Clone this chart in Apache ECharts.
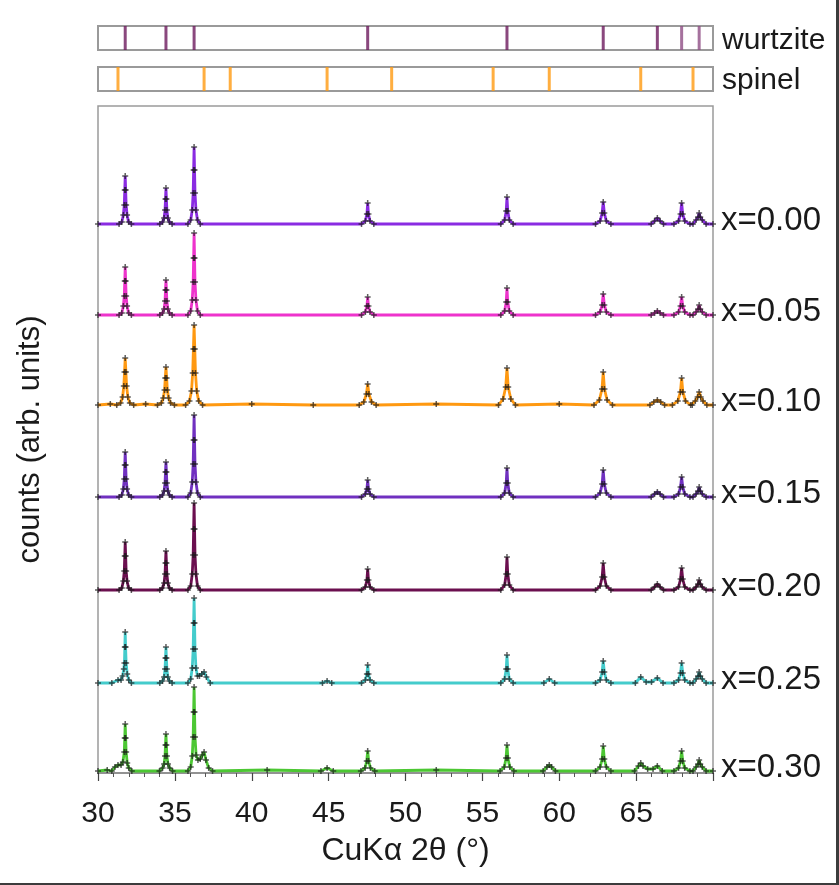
<!DOCTYPE html>
<html>
<head>
<meta charset="utf-8">
<script src="https://cdn.jsdelivr.net/npm/echarts@6/dist/echarts.min.js"></script>
<style>
  html, body { margin: 0; padding: 0; background: #ffffff; }
  #chart { width: 839px; height: 885px; }
</style>
</head>
<body>
<div id="chart"></div>
<script>
// Reference reflections (2θ, degrees)
const wurtziteLines = [31.77, 34.42, 36.25, 47.54, 56.60, 62.86, 66.38, 67.96, 69.10];
const spinelLines = [31.3, 36.9, 38.6, 44.9, 49.1, 55.7, 59.35, 65.3, 68.7];

// Sample labels and vertical offsets of each stacked pattern
const sampleNames = ['x=0.00', 'x=0.05', 'x=0.10', 'x=0.15', 'x=0.20', 'x=0.25', 'x=0.30'];
const sampleOffsets = [549, 458, 368, 276, 183, 90, 2];
const sampleColors = ['#8a2be2', '#ee33cc', '#ff9911', '#7030c0', '#6b0f4f', '#44cccc', '#4cc733'];

// Diffraction patterns: [2θ, counts above own baseline]
const pattern000 = [
  [30,0],
  [31.37,0],[31.55,2],[31.65,9],[31.71,19],[31.74,34],[31.77,48],[31.8,34],[31.83,19],[31.89,9],[31.99,2],[32.17,0],
  [34.02,0],[34.2,2],[34.3,6],[34.36,14],[34.39,25],[34.42,36],[34.45,25],[34.48,14],[34.54,6],[34.64,2],[34.82,0],
  [35.85,0],[36.03,4],[36.13,14],[36.19,31],[36.22,54],[36.25,77],[36.28,54],[36.31,31],[36.37,14],[36.47,4],[36.65,0],
  [47.14,0],[47.39,3],[47.49,10],[47.54,21],[47.59,10],[47.69,3],[47.94,0],
  [56.2,0],[56.45,4],[56.55,13],[56.6,27],[56.65,13],[56.75,4],[57.0,0],
  [62.36,0],[62.66,3],[62.79,11],[62.86,22],[62.93,11],[63.06,3],[63.36,0],
  [65.98,0],[66.2,3],[66.38,6],[66.56,3],[66.78,0],
  [67.46,0],[67.76,3],[67.89,10],[67.96,21],[68.03,10],[68.16,3],[68.5,0],
  [68.7,0],[68.9,4],[69.03,7],[69.1,11],[69.17,7],[69.3,4],[69.55,0],
  [70,0]
];
const pattern005 = [
  [30,0],
  [31.37,0],[31.55,2],[31.65,9],[31.71,19],[31.74,34],[31.77,48],[31.8,34],[31.83,19],[31.89,9],[31.99,2],[32.17,0],
  [34.02,0],[34.2,2],[34.3,6],[34.36,14],[34.39,25],[34.42,35],[34.45,25],[34.48,14],[34.54,6],[34.64,2],[34.82,0],
  [35.85,0],[36.03,4],[36.13,15],[36.19,33],[36.22,57],[36.25,82],[36.28,57],[36.31,33],[36.37,15],[36.47,4],[36.65,0],
  [47.14,0],[47.39,3],[47.49,9],[47.54,18],[47.59,9],[47.69,3],[47.94,0],
  [56.2,0],[56.45,4],[56.55,13],[56.6,27],[56.65,13],[56.75,4],[57.0,0],
  [62.36,0],[62.66,3],[62.79,10],[62.86,21],[62.93,10],[63.06,3],[63.36,0],
  [65.98,0],[66.2,2],[66.38,4],[66.56,2],[66.78,0],
  [67.46,0],[67.76,3],[67.89,9],[67.96,18],[68.03,9],[68.16,3],[68.5,0],
  [68.7,0],[68.9,3],[69.03,6],[69.1,10],[69.17,6],[69.3,3],[69.55,0],
  [70,0]
];
const pattern010 = [
  [30,0],[30.8,1],
  [31.22,0],[31.47,2],[31.6,8],[31.68,19],[31.725,33],[31.77,47],[31.815,33],[31.86,19],[31.94,8],[32.07,2],[32.32,0],
  [33.1,1],
  [33.87,0],[34.12,2],[34.25,7],[34.33,15],[34.375,27],[34.42,38],[34.465,27],[34.51,15],[34.59,7],[34.72,2],[34.97,0],
  [35.7,0],[35.95,4],[36.08,14],[36.16,32],[36.205,56],[36.25,80],[36.295,56],[36.34,32],[36.42,14],[36.55,4],[36.8,0],
  [40,1],[44,0],
  [46.99,0],[47.29,3],[47.46,11],[47.54,21],[47.62,11],[47.79,3],[48.09,0],
  [52,1],
  [56.05,0],[56.35,6],[56.52,18],[56.6,37],[56.68,18],[56.85,6],[57.15,0],
  [60,1],
  [62.26,0],[62.61,5],[62.78,16],[62.86,33],[62.94,16],[63.11,5],[63.46,0],
  [65.9,0],[66.15,3],[66.38,5],[66.6,3],[66.85,0],
  [67.36,0],[67.71,4],[67.88,13],[67.96,27],[68.04,13],[68.21,4],[68.55,0],
  [68.65,0],[68.85,4],[69.0,8],[69.1,13],[69.2,8],[69.35,4],[69.6,0],
  [70,0]
];
const pattern015 = [
  [30,0],
  [31.37,0],[31.55,2],[31.65,8],[31.71,18],[31.74,32],[31.77,45],[31.8,32],[31.83,18],[31.89,8],[31.99,2],[32.17,0],
  [34.02,0],[34.2,2],[34.3,6],[34.36,14],[34.39,25],[34.42,35],[34.45,25],[34.48,14],[34.54,6],[34.64,2],[34.82,0],
  [35.85,0],[36.03,4],[36.13,15],[36.19,33],[36.22,57],[36.25,82],[36.28,57],[36.31,33],[36.37,15],[36.47,4],[36.65,0],
  [47.14,0],[47.39,3],[47.49,8],[47.54,17],[47.59,8],[47.69,3],[47.94,0],
  [56.2,0],[56.45,4],[56.55,14],[56.6,29],[56.65,14],[56.75,4],[57.0,0],
  [62.36,0],[62.66,4],[62.79,13],[62.86,27],[62.93,13],[63.06,4],[63.36,0],
  [65.98,0],[66.2,3],[66.38,5],[66.56,3],[66.78,0],
  [67.46,0],[67.76,3],[67.89,10],[67.96,20],[68.03,10],[68.16,3],[68.5,0],
  [68.7,0],[68.9,3],[69.03,6],[69.1,10],[69.17,6],[69.3,3],[69.55,0],
  [70,0]
];
const pattern020 = [
  [30,0],
  [31.37,0],[31.55,2],[31.65,9],[31.71,19],[31.74,34],[31.77,48],[31.8,34],[31.83,19],[31.89,9],[31.99,2],[32.17,0],
  [34.02,0],[34.2,2],[34.3,7],[34.36,16],[34.39,27],[34.42,39],[34.45,27],[34.48,16],[34.54,7],[34.64,2],[34.82,0],
  [35.85,0],[36.03,4],[36.13,16],[36.19,35],[36.22,61],[36.25,87],[36.28,61],[36.31,35],[36.37,16],[36.47,4],[36.65,0],
  [47.14,0],[47.39,3],[47.49,10],[47.54,21],[47.59,10],[47.69,3],[47.94,0],
  [56.2,0],[56.45,5],[56.55,16],[56.6,33],[56.65,16],[56.75,5],[57.0,0],
  [62.36,0],[62.66,4],[62.79,13],[62.86,27],[62.93,13],[63.06,4],[63.36,0],
  [65.98,0],[66.2,3],[66.38,6],[66.56,3],[66.78,0],
  [67.46,0],[67.76,3],[67.89,11],[67.96,22],[68.03,11],[68.16,3],[68.5,0],
  [68.7,0],[68.9,3],[69.03,6],[69.1,10],[69.17,6],[69.3,3],[69.55,0],
  [70,0]
];
const pattern025 = [
  [30,0],
  [30.9,0],[31.3,3],[31.5,3],[31.6,7],[31.68,14],[31.72,20],[31.745,36],[31.77,51],[31.795,36],[31.83,20],[31.9,9],[32.0,3],[32.17,0],
  [34.02,0],[34.2,2],[34.3,6],[34.36,14],[34.39,25],[34.42,36],[34.45,25],[34.48,14],[34.54,6],[34.64,2],[34.82,0],
  [35.85,0],[36.03,4],[36.13,15],[36.19,34],[36.22,60],[36.25,85],[36.28,60],[36.31,34],[36.37,15],[36.47,7],[36.6,7],[36.75,9],[36.9,11],[37.05,6],[37.3,0],
  [44.6,0],[44.9,2],[45.2,0],
  [47.14,0],[47.39,3],[47.49,9],[47.54,18],[47.59,9],[47.69,3],[47.94,0],
  [56.2,0],[56.45,4],[56.55,14],[56.6,28],[56.65,14],[56.75,4],[57.0,0],
  [59.0,0],[59.35,4],[59.7,0],
  [62.36,0],[62.66,3],[62.79,11],[62.86,22],[62.93,11],[63.06,3],[63.36,0],
  [64.95,0],[65.3,6],[65.65,1],[66.0,1],[66.38,5],[66.75,0],
  [67.46,0],[67.76,3],[67.89,10],[67.96,20],[68.03,10],[68.16,3],[68.5,0],
  [68.7,0],[68.9,4],[69.03,7],[69.1,11],[69.17,7],[69.3,4],[69.55,0],
  [70,0]
];
const pattern030 = [
  [30,0],[30.6,1],
  [30.9,0],[31.1,4],[31.3,6],[31.5,6],[31.62,9],[31.71,19],[31.74,33],[31.77,47],[31.8,33],[31.83,19],[31.9,8],[32.0,3],[32.2,0],
  [34.0,0],[34.2,3],[34.3,7],[34.36,15],[34.39,26],[34.42,37],[34.45,26],[34.48,15],[34.55,7],[34.66,3],[34.85,0],
  [35.85,0],[36.03,4],[36.13,15],[36.19,34],[36.22,59],[36.25,84],[36.28,59],[36.31,34],[36.38,16],[36.5,11],[36.65,12],[36.78,16],[36.9,19],[37.02,11],[37.2,3],[37.45,0],
  [41,1],
  [44.5,0],[44.9,3],[45.3,0],
  [47.1,0],[47.37,3],[47.48,10],[47.54,20],[47.6,10],[47.72,3],[48.0,0],
  [52,1],
  [56.15,0],[56.43,4],[56.54,13],[56.6,26],[56.66,13],[56.78,4],[57.05,0],
  [58.95,0],[59.2,4],[59.35,6],[59.5,4],[59.75,0],
  [62.36,0],[62.66,4],[62.79,12],[62.86,25],[62.93,12],[63.06,4],[63.36,0],
  [64.9,0],[65.15,5],[65.3,8],[65.45,5],[65.75,2],[66.1,2],[66.38,5],[66.7,0],
  [67.46,0],[67.76,3],[67.89,10],[67.96,20],[68.03,10],[68.16,3],[68.5,0],
  [68.7,0],[68.9,4],[69.03,7],[69.1,11],[69.17,7],[69.3,4],[69.55,0],
  [70,0]
];
const patterns = [pattern000, pattern005, pattern010, pattern015, pattern020, pattern025, pattern030];

// Axis range and tick step
const xMin = 30, xMax = 70, xStep = 5;

const FONT = "'Liberation Sans', Arial, Helvetica, sans-serif";
const PLUS = 'path://M-1,-4H1V-1H4V1H1V4H-1V1H-4V-1H-1Z';

const chart = echarts.init(document.getElementById('chart'), null, { renderer: 'canvas' });

const patternSeries = patterns.map((pts, i) => ({
  name: sampleNames[i],
  type: 'line',
  xAxisIndex: 0,
  yAxisIndex: 0,
  data: pts.map(p => [p[0], p[1] + sampleOffsets[i]]),
  showSymbol: true,
  symbol: PLUS,
  symbolSize: 6,
  itemStyle: { color: '#1a1a1a', opacity: 0.7 },
  lineStyle: { color: sampleColors[i], width: 2.8 },
  z: 3,
  clip: false,
  endLabel: {
    show: true,
    formatter: '{a}',
    color: '#1a1a1a',
    fontFamily: FONT,
    fontSize: 33,
    distance: 8,
    offset: [0, -3]
  }
}));

// Reflection sticks for the reference phases
const stickSeries = (lines, grid, color, lastColor) => ({
  type: 'scatter',
  xAxisIndex: grid,
  yAxisIndex: grid,
  data: lines.map((v, k) => ({
    value: [v, 0.5],
    itemStyle: { color: (lastColor && k >= lines.length - 2) ? lastColor : color }
  })),
  symbol: 'rect',
  symbolSize: [3, 24],
  silent: true
});

const hiddenX = (g) => ({ type: 'value', gridIndex: g, min: xMin, max: xMax, show: false });
const hiddenY = (g) => ({ type: 'value', gridIndex: g, min: 0, max: 1, show: false });

chart.setOption({
  animation: false,
  backgroundColor: '#ffffff',
  grid: [
    { left: 98, right: 126, top: 106, bottom: 112, show: true, borderColor: '#9a9a9a', borderWidth: 1.5, backgroundColor: 'transparent' },
    { left: 98, right: 126, top: 26, height: 24, show: true, borderColor: '#9a9a9a', borderWidth: 2 },
    { left: 98, right: 126, top: 67, height: 24, show: true, borderColor: '#9a9a9a', borderWidth: 2 }
  ],
  xAxis: [
    {
      type: 'value', gridIndex: 0, min: xMin, max: xMax, interval: xStep,
      name: 'CuKα 2θ (°)', nameLocation: 'middle', nameGap: 62,
      nameTextStyle: { fontFamily: FONT, fontSize: 32, color: '#1a1a1a' },
      axisLine: { show: true, lineStyle: { color: '#888', width: 1.5 } },
      axisTick: { show: true, inside: false, length: 8, lineStyle: { color: '#444', width: 1.2 } },
      minorTick: { show: true, splitNumber: 5, length: 4, lineStyle: { color: '#555', width: 1 } },
      axisLabel: {
        margin: 26, fontFamily: FONT, fontSize: 30, color: '#1a1a1a',
        formatter: v => (v >= xMax ? '' : String(v))
      },
      splitLine: { show: false }
    },
    hiddenX(1), hiddenX(2)
  ],
  yAxis: [
    {
      type: 'value', gridIndex: 0, min: 0, max: 667,
      name: 'counts (arb. units)', nameLocation: 'middle', nameGap: 52, nameRotate: 90,
      nameTextStyle: { fontFamily: FONT, fontSize: 31, color: '#1a1a1a' },
      axisLine: { show: false }, axisTick: { show: false }, axisLabel: { show: false },
      splitLine: { show: false }
    },
    hiddenY(1), hiddenY(2)
  ],
  series: [
    ...patternSeries,
    stickSeries(wurtziteLines, 1, '#6d1a5e', '#8e4e84'),
    stickSeries(spinelLines, 2, '#ff9a10', null)
  ],
  graphic: [
    { type: 'text', x: 722, y: 41, style: { text: 'wurtzite', fontFamily: FONT, fontSize: 30, fill: '#1a1a1a', verticalAlign: 'middle' } },
    { type: 'text', x: 722, y: 81, style: { text: 'spinel', fontFamily: FONT, fontSize: 30, fill: '#1a1a1a', verticalAlign: 'middle' } },
    { type: 'rect', shape: { x: 836, y: 0, width: 3, height: 885 }, style: { fill: '#3c3c3c' } },
    { type: 'rect', shape: { x: 0, y: 883, width: 839, height: 2 }, style: { fill: '#3c3c3c' } }
  ]
});
</script>
</body>
</html>
